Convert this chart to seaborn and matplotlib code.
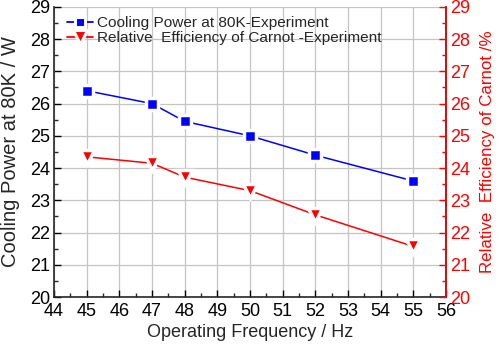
import matplotlib
matplotlib.use("Agg")
import matplotlib.pyplot as plt
import seaborn as sns
import pandas as pd
from matplotlib.ticker import MultipleLocator
from matplotlib.lines import Line2D

freq = [45, 47, 48, 50, 52, 55]
cooling_power = [26.4, 26.0, 25.45, 25.0, 24.4, 23.6]
rel_efficiency = [24.35, 24.15, 23.72, 23.3, 22.55, 21.57]
label_blue = "Cooling Power at 80K-Experiment"
label_red = "Relative  Efficiency of Carnot -Experiment"

sns.set_style("ticks")
plt.rcParams['font.family'] = ['Liberation Sans', 'DejaVu Sans']

df = pd.DataFrame({"freq": freq, "cp": cooling_power, "eff": rel_efficiency})

fig = plt.figure(figsize=(5, 3.45), dpi=100)
ax = fig.add_axes([0.108, 0.139, 0.784, 0.841])
ax2 = ax.twinx()

sns.lineplot(data=df, x="freq", y="cp", ax=ax, color="blue", marker="s", markersize=8.5,
             markeredgecolor="white", markeredgewidth=2.5, linewidth=1.1, label=label_blue, legend=False)
sns.lineplot(data=df, x="freq", y="eff", ax=ax2, color="red", marker="v", markersize=10,
             markeredgecolor="white", markeredgewidth=2.5, linewidth=1.1, label=label_red, legend=False)

for a in (ax, ax2):
    a.set_ylim(20, 29)
    a.yaxis.set_major_locator(MultipleLocator(1))
    a.yaxis.set_minor_locator(MultipleLocator(0.5))
ax.set_xlim(44, 56)
ax.xaxis.set_major_locator(MultipleLocator(1))
ax.xaxis.set_minor_locator(MultipleLocator(0.5))

ax.grid(True, which="major", color="#c4c4c4", linewidth=0.9)
ax.set_axisbelow(True)

ax.tick_params(axis="both", which="major", direction="in", length=5, width=1, labelsize=13, colors="black")
ax.tick_params(axis="both", which="minor", direction="in", length=3, width=1)
ax.tick_params(axis="x", pad=4)
ax.tick_params(axis="y", pad=3)
ax2.tick_params(axis="y", which="major", direction="in", length=5, width=1, labelsize=13, colors="red", pad=3)
ax2.tick_params(axis="y", which="minor", direction="in", length=3, width=1, colors="red")

for s in ax.spines.values():
    s.set_linewidth(1.2)
ax.spines["top"].set_visible(False)
ax2.spines["top"].set_visible(False)
ax2.spines["right"].set_color("red")
ax2.spines["right"].set_linewidth(1.2)
ax2.spines["left"].set_visible(False)
ax2.spines["bottom"].set_visible(False)

ax.set_xlabel("Operating Frequency / Hz", fontsize=13, labelpad=3)
ax.set_ylabel("Cooling Power at 80K / W", fontsize=14.5)
ax2.set_ylabel("Relative  Efficiency of Carnot /%", fontsize=12.2, color="red")
ax.yaxis.label.set_verticalalignment("center")
ax.yaxis.set_label_coords(-0.112, 0.5)
ax2.yaxis.label.set_verticalalignment("center")
ax2.yaxis.set_label_coords(1.105, 0.5)

handles = [Line2D([0], [0], color="blue", marker="s", markersize=7.5, markeredgecolor="white",
                  markeredgewidth=2.2, linewidth=1.3),
           Line2D([0], [0], color="red", marker="v", markersize=9.5, markeredgecolor="white",
                  markeredgewidth=2.2, linewidth=1.3)]
leg = ax.legend(handles, [label_blue, label_red], loc="upper left", frameon=False,
                fontsize=11.1, bbox_to_anchor=(0.018, 0.99), handlelength=1.7, handletextpad=0.26,
                labelspacing=0.08, borderaxespad=0.0)

fig.savefig("out.png", dpi=100)
